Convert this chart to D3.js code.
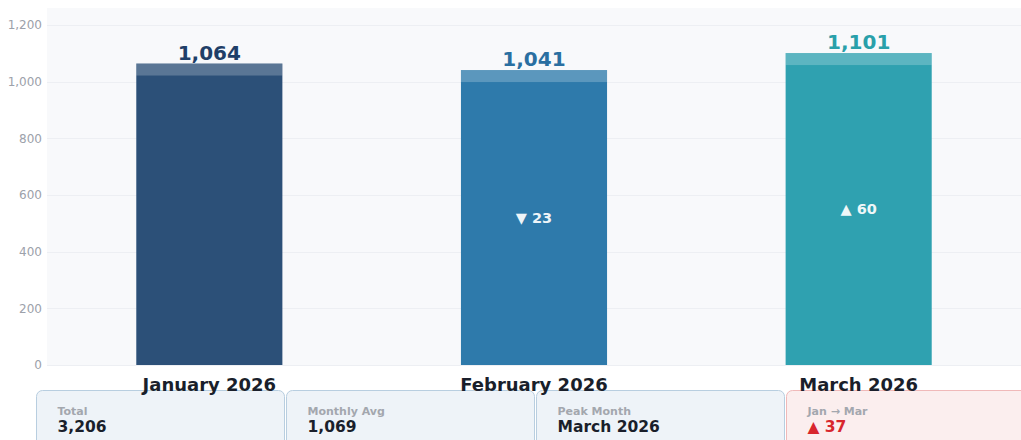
<!DOCTYPE html>
<meta charset="utf-8" />
<style>
  body { margin: 0; background: #ffffff; }
  svg { display: block; font-family: "DejaVu Sans", sans-serif; }
</style>
<script src="https://cdn.jsdelivr.net/npm/d3@7"></script>
<svg id="chart" width="1021" height="440"></svg>
<script>
  // data
  const months = ['January 2026', 'February 2026', 'March 2026'];
  const values = [1064, 1041, 1101];
  const barColors = ['#2c5078', '#2e7aab', '#2fa1b0'];
  const labelColors = ['#1f3f68', '#2a6fa1', '#29a0aa'];
  const yTicks = [0, 200, 400, 600, 800, 1000, 1200];

  const svg = d3.select('#chart');
  const fmt = d3.format(',');

  const plotLeft = 47, plotRight = 1021, plotTop = 8, plotBottom = 365;

  const x = d3.scaleBand()
    .domain(months)
    .range([plotLeft, plotRight])
    .paddingInner(0.55)
    .paddingOuter(0.275);

  const y = d3.scaleLinear()
    .domain([0, 1200])
    .range([plotBottom, 25]);

  // summary cards (drawn first, month labels sit over their top edge)
  const total = d3.sum(values);
  const avg = Math.round(d3.mean(values));
  const peak = months[d3.maxIndex(values)];
  const change = values[values.length - 1] - values[0];
  const cards = [
    { label: 'Total', value: fmt(total), fill: '#eef3f8', stroke: '#b8cee0', color: '#1a1f2b' },
    { label: 'Monthly Avg', value: fmt(avg), fill: '#eef3f8', stroke: '#b8cee0', color: '#1a1f2b' },
    { label: 'Peak Month', value: peak, fill: '#eef3f8', stroke: '#b8cee0', color: '#1a1f2b' },
    { label: 'Jan \u2192 Mar', value: (change >= 0 ? '\u25B2 ' : '\u25BC ') + Math.abs(change), fill: '#fbeeee', stroke: '#f0b9b9', color: '#d8262d' }
  ];

  const card = svg.append('g')
    .selectAll('g')
    .data(cards)
    .enter()
    .append('g')
    .attr('transform', (d, i) => 'translate(' + (36.5 + i * 250) + ',390.5)');

  card.append('rect')
    .attr('width', 248)
    .attr('height', 70)
    .attr('rx', 6)
    .attr('fill', d => d.fill)
    .attr('stroke', d => d.stroke);

  card.append('text')
    .attr('x', 21)
    .attr('y', 24)
    .attr('font-size', 11)
    .attr('font-weight', 'bold')
    .attr('fill', '#a3a7ae')
    .text(d => d.label);

  card.append('text')
    .attr('x', 21)
    .attr('y', 41)
    .attr('font-size', 15.5)
    .attr('font-weight', 'bold')
    .attr('fill', d => d.color)
    .text(d => d.value);

  // plot background
  svg.append('rect')
    .attr('x', plotLeft)
    .attr('y', plotTop)
    .attr('width', plotRight - plotLeft)
    .attr('height', plotBottom - plotTop)
    .attr('fill', '#f8f9fb');

  // grid + y labels
  svg.append('g')
    .selectAll('line')
    .data(yTicks)
    .enter()
    .append('line')
    .attr('x1', plotLeft)
    .attr('x2', plotRight)
    .attr('y1', d => Math.round(y(d)) + 0.5)
    .attr('y2', d => Math.round(y(d)) + 0.5)
    .attr('stroke', '#edeff3')
    .attr('stroke-width', 1);

  svg.append('g')
    .selectAll('text')
    .data(yTicks)
    .enter()
    .append('text')
    .attr('x', 42)
    .attr('y', d => y(d))
    .attr('dy', '0.35em')
    .attr('text-anchor', 'end')
    .attr('font-size', 12)
    .attr('fill', '#9ca1aa')
    .text(d => fmt(d));

  // bars
  const bar = svg.append('g')
    .selectAll('g')
    .data(values)
    .enter()
    .append('g');

  bar.append('rect')
    .attr('x', (d, i) => x(months[i]))
    .attr('y', d => y(d))
    .attr('width', x.bandwidth())
    .attr('height', d => plotBottom - y(d))
    .attr('fill', (d, i) => barColors[i]);

  // lighter cap on top of each bar
  bar.append('rect')
    .attr('x', (d, i) => x(months[i]))
    .attr('y', d => y(d))
    .attr('width', x.bandwidth())
    .attr('height', 12)
    .attr('fill', '#ffffff')
    .attr('opacity', 0.22);

  bar.append('text')
    .attr('x', (d, i) => x(months[i]) + x.bandwidth() / 2)
    .attr('y', d => y(d) - 4)
    .attr('text-anchor', 'middle')
    .attr('font-size', 20)
    .attr('font-weight', 'bold')
    .attr('fill', (d, i) => labelColors[i])
    .text(d => fmt(d));

  // change vs previous month, inside bar
  bar.filter((d, i) => i > 0)
    .append('text')
    .attr('x', (d, i) => x(months[i + 1]) + x.bandwidth() / 2)
    .attr('y', d => (y(d) + plotBottom) / 2)
    .attr('dy', '0.35em')
    .attr('text-anchor', 'middle')
    .attr('font-size', 14.5)
    .attr('font-weight', 'bold')
    .attr('fill', '#ffffff')
    .attr('opacity', 0.92)
    .text((d, i) => {
      const diff = d - values[i];
      return (diff >= 0 ? '\u25B2 ' : '\u25BC ') + Math.abs(diff);
    });

  // month labels
  svg.append('g')
    .selectAll('text')
    .data(months)
    .enter()
    .append('text')
    .attr('x', d => x(d) + x.bandwidth() / 2)
    .attr('y', 391)
    .attr('text-anchor', 'middle')
    .attr('font-size', 18)
    .attr('font-weight', 'bold')
    .attr('fill', '#1a1f2b')
    .text(d => d);
</script>
